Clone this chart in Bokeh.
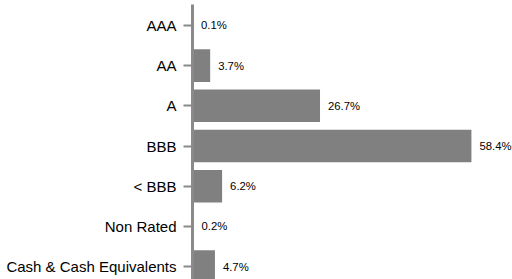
from bokeh.plotting import figure
from bokeh.models import ColumnDataSource, Range1d, FixedTicker
from bokeh.embed import file_html
from bokeh.resources import INLINE

categories = ["AAA", "AA", "A", "BBB", "< BBB", "Non Rated", "Cash & Cash Equivalents"]
values = [0.1, 3.7, 26.7, 58.4, 6.2, 0.2, 4.7]
value_labels = ["0.1%", "3.7%", "26.7%", "58.4%", "6.2%", "0.2%", "4.7%"]

ypos = list(range(len(categories)))
src = ColumnDataSource(dict(y=ypos, v=values, lab=value_labels, cat=categories))

p = figure(width=512, height=279, output_backend="svg", toolbar_location=None,
           x_range=Range1d(0, 67.0), y_range=Range1d(6.32, -0.52),
           min_border_left=192, min_border_right=0, min_border_top=4, min_border_bottom=0)
p.outline_line_color = None
p.grid.visible = False
p.xaxis.visible = False
p.background_fill_color = "white"
p.border_fill_color = "white"

p.hbar(y="y", left=0, right="v", height=0.81, source=src, fill_color="#808080", line_color=None)
p.text(x="v", y="y", text="lab", source=src, x_offset=8, text_baseline="middle",
       text_align="left", text_font_size="11.3px", text_color="#000000",
       text_font={"value": "Liberation Sans"})

ax = p.yaxis[0]
ax.ticker = FixedTicker(ticks=ypos)
ax.major_label_overrides = {i: c for i, c in zip(ypos, categories)}
ax.axis_line_color = "#8a8a8a"
ax.axis_line_width = 3
ax.major_tick_line_color = "#8a8a8a"
ax.major_tick_line_width = 2
ax.major_tick_out = 9
ax.major_tick_in = 0
ax.minor_tick_line_color = None
ax.major_label_text_font = "Liberation Sans"
ax.major_label_text_font_size = "15px"
ax.major_label_text_color = "#000000"
ax.major_label_standoff = 7

open("out.html", "w").write(file_html(p, INLINE))
